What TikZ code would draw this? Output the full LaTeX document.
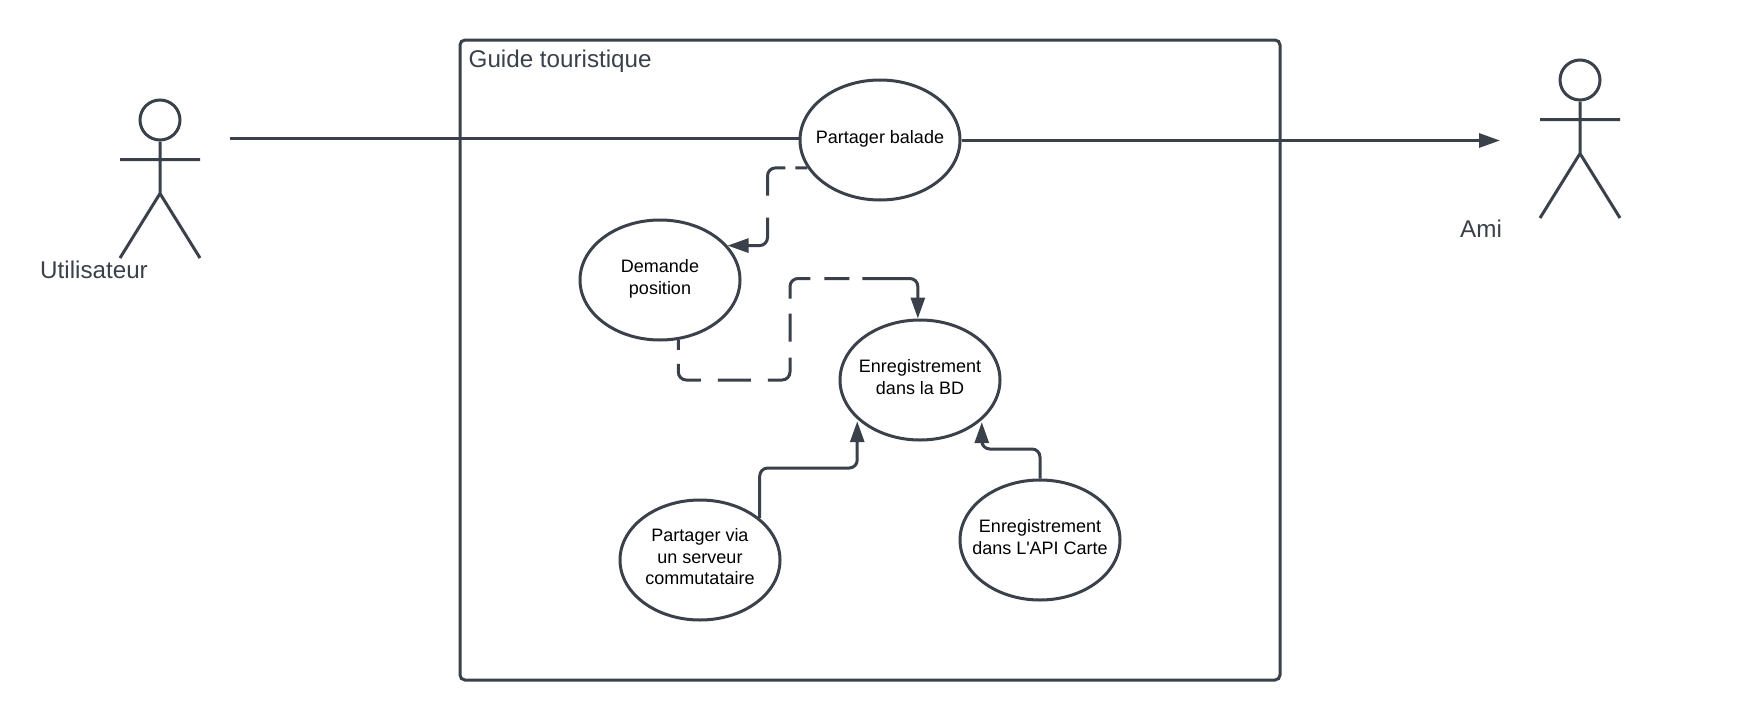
\documentclass[tikz,border=0pt]{standalone}
\usepackage{fontspec}
\setmainfont{Liberation Sans}[Ligatures=TeXOff]
\usetikzlibrary{arrows.meta,calc,shapes.geometric}
\definecolor{ink}{HTML}{3A414A}
\newcommand\uctext[1]{\makebox[0pt][c]{\raisebox{-3.5pt}[0pt][0pt]{\begin{tabular}{@{}c@{}}#1\end{tabular}}}}
\tikzset{
  x=1pt,y=-1pt,
  usecase/.style={draw=ink,line width=3pt,ellipse,minimum width=160pt,minimum height=120pt,inner sep=0pt,font=\fontsize{18}{21.5}\selectfont,text=black},
  title/.style={font=\fontsize{24.2}{28}\selectfont,text=ink,inner sep=0pt},
  limb/.style={draw=ink,line width=3pt},
  link/.style={draw=ink,line width=3pt,rounded corners=8pt},
  tip/.style={-{Triangle[length=21pt,width=14pt]}},
  dasha/.style={dash pattern=on 12pt off 10pt on 42pt off 22pt on 200pt},
  dashb/.style={dash pattern=on 10pt off 14pt on 35pt off 17pt on 33pt off 17pt on 41pt off 16pt on 28pt off 15pt on 37pt off 14pt on 25pt off 13pt on 200pt}
}
\begin{document}
\begin{tikzpicture}
\useasboundingbox (0,0) rectangle (1740,720);
\fill[white] (0,0) rectangle (1740,720);
\node[draw=ink,line width=3pt,rounded corners=5pt,minimum width=820pt,minimum height=640pt,inner sep=0pt,outer sep=0pt] (frame) at (870,360) {};
\node[title,anchor=base west] (ftitle) at (468.5,67) {Guide touristique};
% actors
\node[draw=ink,line width=3pt,circle,minimum size=40pt,inner sep=0pt] (h1) at (160,120) {};
\coordinate (n1) at (160,193.5);
\coordinate (a1l) at (120,159.5); \coordinate (a1r) at (200,159.5);
\coordinate (l1l) at (120,258); \coordinate (l1r) at (200,258);
\draw[limb] (h1.south) -- (n1) (a1l) -- (a1r) (l1l) -- (n1) -- (l1r);
\node[title,anchor=base west] (u) at (40,278) {Utilisateur};
\node[draw=ink,line width=3pt,circle,minimum size=40pt,inner sep=0pt] (h2) at (1580,80) {};
\coordinate (n2) at (1580,153.5);
\coordinate (a2l) at (1540,119.5); \coordinate (a2r) at (1620,119.5);
\coordinate (l2l) at (1540,218); \coordinate (l2r) at (1620,218);
\draw[limb] (h2.south) -- (n2) (a2l) -- (a2r) (l2l) -- (n2) -- (l2r);
\node[title,anchor=base west] (ami) at (1460,237) {Ami};
% use cases
\node[usecase] (pb) at (880,140) {\uctext{Partager balade}};
\node[usecase] (dp) at (660,280) {\uctext{Demande\\position}};
\node[usecase] (eb) at (920,380) {\uctext{Enregistrement\\dans la BD}};
\node[usecase] (pv) at (700,560) {\uctext{Partager via\\un serveur\\commutataire}};
\node[usecase] (ea) at (1040,540) {\uctext{Enregistrement\\dans L'API Carte}};
% connectors
\coordinate (start) at (230,138);
\coordinate (end) at (1500,140.5);
\draw[link] (start) -- (pb.west |- start);
\draw[link,tip] (pb.east |- end) -- (end);
\coordinate (t1) at (767.5,246);
\draw[link,tip,dasha] (pb.201) -- (pb.201 -| t1) -- (t1 |- dp.27) -- (dp.27);
\coordinate (b1) at (790,380);
\coordinate (b2) at (790,278.5);
\draw[link,tip,dashb] (dp.287) -- (dp.287 |- b1) -- (b1) -- (b2) -- (b2 -| eb.92) -- (eb.92);
\coordinate (c1) at (759,468);
\draw[link,tip,shorten >=2pt] (pv.35) -- (pv.35 |- c1) -- (c1 -| eb.212) -- (eb.212);
\coordinate (c2) at (1040,449);
\draw[link,tip,shorten >=2pt] (ea.north) -- (c2) -- (c2 -| eb.327) -- (eb.327);
\end{tikzpicture}
\end{document}
